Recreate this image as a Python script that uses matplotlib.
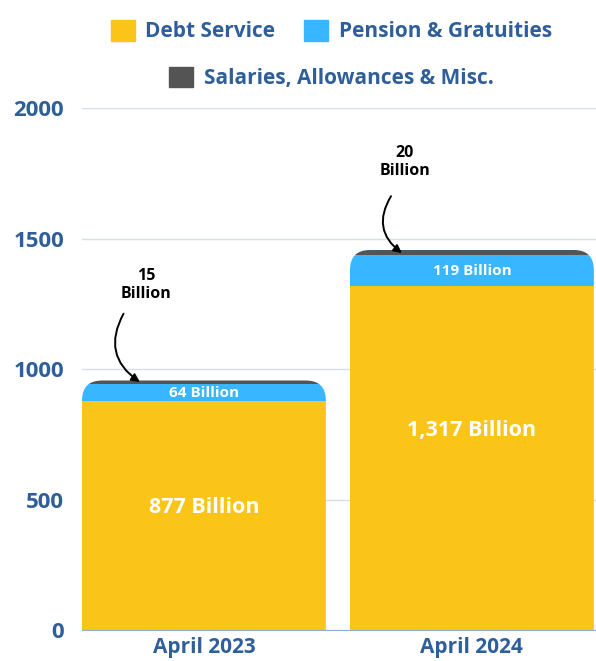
import matplotlib.pyplot as plt
from matplotlib.patches import FancyBboxPatch, Patch

# data
months = ["April 2023", "April 2024"]
debt_service = [877, 1317]
pension = [64, 119]
salaries = [15, 20]
debt_labels = ["877 Billion", "1,317 Billion"]
pension_labels = ["64 Billion", "119 Billion"]
salary_labels = ["15\nBillion", "20\nBillion"]

YELLOW = "#FAC418"
BLUE = "#38B6FF"
DARK = "#545454"
TXT = "#2F5F9A"
FONT = "Open Sans"

plt.rcParams['font.family'] = [FONT, 'DejaVu Sans']

fig = plt.figure(figsize=(5.96, 6.61), dpi=100)
ax = fig.add_axes([0.1376, 0.0469, 0.8624, 0.7897])

x = [0, 1]
width = 0.91
ax.set_xlim(-0.455, 1.463)
ax.set_ylim(0, 2000)

b1 = ax.bar(x, debt_service, width, color=YELLOW, zorder=2)
bottom2 = debt_service
b2 = ax.bar(x, pension, width, bottom=bottom2, color=BLUE, zorder=2)
bottom3 = [d + p for d, p in zip(debt_service, pension)]
b3 = ax.bar(x, salaries, width, bottom=bottom3, color=DARK, zorder=2)

# rounded tops: clip each stack to a rounded box
rx = 0.075
ry = 77
for i in range(2):
    top = bottom3[i] + salaries[i]
    clip = FancyBboxPatch((x[i] - width / 2, -200), width, top + 200,
                          boxstyle=f"round,pad=0,rounding_size={rx}",
                          mutation_aspect=ry / rx, transform=ax.transData)
    for bars in (b1, b2, b3):
        bars[i].set_clip_path(clip)

# labels in bars
ax.text(0, 471, debt_labels[0], ha="center", va="center", color="white",
        fontsize=15.5, fontweight="bold", zorder=3)
ax.text(1, 766, debt_labels[1], ha="center", va="center", color="white",
        fontsize=15.5, fontweight="bold", zorder=3)
for i in range(2):
    ax.text(x[i], debt_service[i] + pension[i] / 2, pension_labels[i], ha="center",
            va="center", color="white", fontsize=11, fontweight="bold", zorder=3)

# annotations for salaries
ann_text = [(-0.216, 1322), (0.75, 1793)]
ann_tail = [(-0.30, 1212), (0.698, 1662)]
ann_head = [(-0.239, 950), (0.739, 1444)]
for i in range(2):
    ax.text(ann_text[i][0], ann_text[i][1], salary_labels[i], ha="center", va="center",
            color="black", fontsize=11.5, fontweight="bold", linespacing=1.2)
    ax.annotate("", xy=ann_head[i], xytext=ann_tail[i],
                arrowprops=dict(arrowstyle="-|>", color="black", lw=1.4,
                                connectionstyle="arc3,rad=0.45",
                                shrinkA=0, shrinkB=0, mutation_scale=12), zorder=4)

# axes styling
ax.set_yticks([0, 500, 1000, 1500, 2000])
ax.grid(axis="y", color="#D6DEE8", lw=1, zorder=0)
ax.set_axisbelow(True)
for s in ["top", "right", "left"]:
    ax.spines[s].set_visible(False)
ax.spines["bottom"].set_color("#8FB0D4")
ax.tick_params(axis="both", length=0, labelcolor=TXT)
ax.tick_params(axis="y", pad=13, labelsize=16)
ax.tick_params(axis="x", pad=5, labelsize=15)
ax.set_xticks(x)
ax.set_xticklabels(months)
for lbl in ax.get_xticklabels() + ax.get_yticklabels():
    lbl.set_fontweight("bold")

# legend in two rows
h1 = [Patch(color=YELLOW), Patch(color=BLUE)]
leg1 = fig.legend(h1, ["Debt Service", "Pension & Gratuities"], loc="center",
                  bbox_to_anchor=(0.556, 0.953), ncol=2, frameon=False,
                  prop={"weight": "bold", "size": 15}, handlelength=1.15,
                  handleheight=1.15, columnspacing=1.4, handletextpad=0.5)
leg2 = fig.legend([Patch(color=DARK)], ["Salaries, Allowances & Misc."], loc="center",
                  bbox_to_anchor=(0.556, 0.882), frameon=False,
                  prop={"weight": "bold", "size": 15}, handlelength=1.15,
                  handleheight=1.15, handletextpad=0.5)
for leg in (leg1, leg2):
    for t in leg.get_texts():
        t.set_color(TXT)

fig.savefig("out.png", dpi=100)
